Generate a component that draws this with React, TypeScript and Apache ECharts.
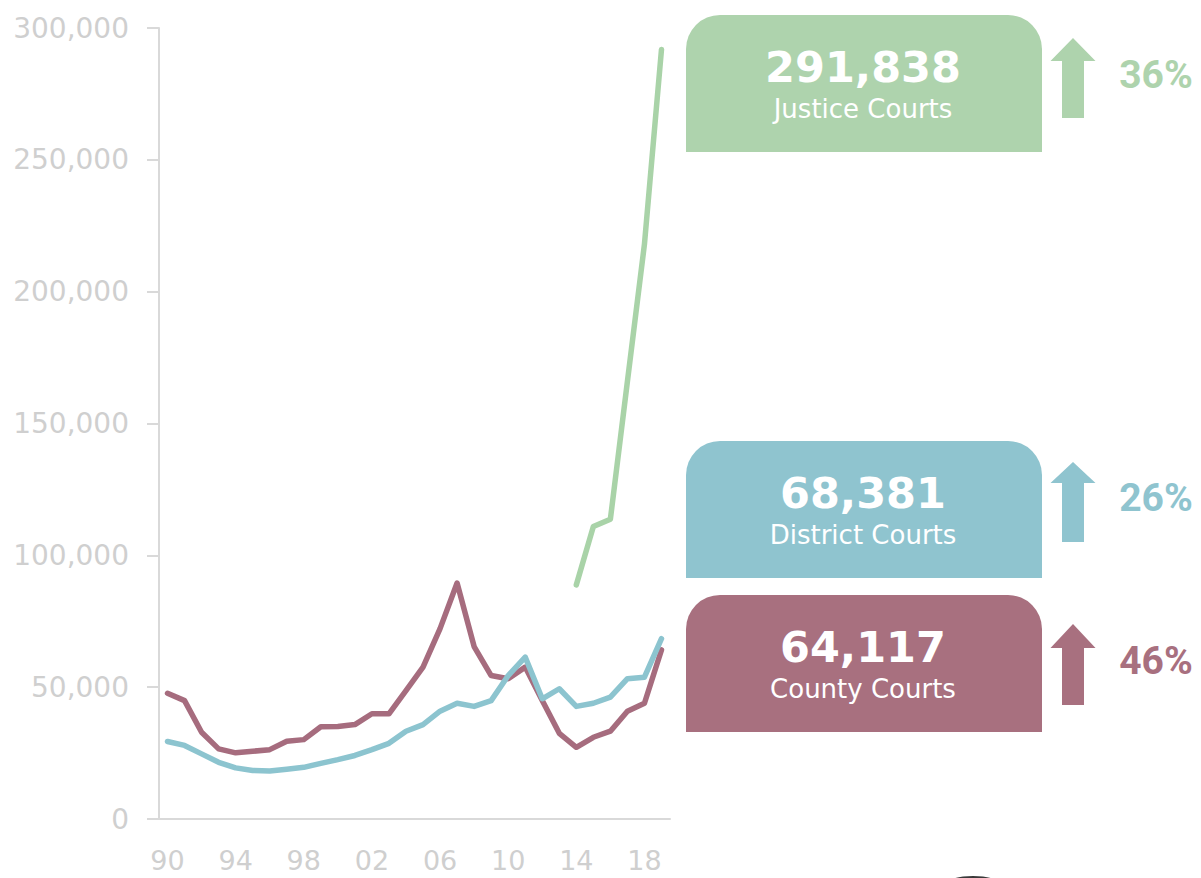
import React, { useEffect, useRef } from "react";
import * as echarts from "echarts";

const years: string[] = [
  "90", "91", "92", "93", "94", "95", "96", "97", "98", "99",
  "00", "01", "02", "03", "04", "05", "06", "07", "08", "09",
  "10", "11", "12", "13", "14", "15", "16", "17", "18", "19",
];

const countyCourts: number[] = [
  47700, 44900, 32900, 26600, 25100, 25700, 26300, 29500, 30100, 35000,
  35100, 35800, 39900, 39900, 48700, 57600, 72200, 89500, 65400, 54400,
  53200, 57600, 44900, 32500, 27200, 31000, 33300, 40900, 43900, 64117,
];

const districtCourts: number[] = [
  29400, 27900, 24700, 21500, 19400, 18400, 18200, 18900, 19600, 21100,
  22500, 24100, 26300, 28700, 33300, 35800, 40900, 43900, 42700, 44900,
  54400, 61400, 45600, 49400, 42700, 43900, 46200, 53200, 53800, 68381,
];

const justiceCourts: (number | null)[] = [
  null, null, null, null, null, null, null, null, null, null,
  null, null, null, null, null, null, null, null, null, null,
  null, null, null, null, 88800, 110900, 113700, 166000, 218000, 291838,
];

const yTicks: number[] = [0, 50000, 100000, 150000, 200000, 250000, 300000];

const cards = [
  { value: "291,838", name: "Justice Courts", pct: "36%", color: "#aed3ad", line: "#a9d3a8" },
  { value: "68,381", name: "District Courts", pct: "26%", color: "#8fc4cf", line: "#8cc4cf" },
  { value: "64,117", name: "County Courts", pct: "46%", color: "#a8707f", line: "#a66c7e" },
];

const cardTops = [15, 441, 595];
const arrowOffsets = [
  { tip: 23, base: 46, bottom: 103 },
  { tip: 21, base: 42, bottom: 101 },
  { tip: 29, base: 53, bottom: 110 },
];
const pctBaselines = [74, 71, 80];

export default function App() {
  const ref = useRef<HTMLDivElement>(null);

  useEffect(() => {
    if (!ref.current) return;
    const chart = echarts.init(ref.current, undefined, { renderer: "svg" });

    const graphics: any[] = [];
    cards.forEach((c, i) => {
      const top = cardTops[i];
      const a = arrowOffsets[i];
      graphics.push({
        type: "rect",
        shape: { x: 686, y: top, width: 356, height: 137, r: [34, 34, 0, 0] },
        style: { fill: c.color },
      });
      graphics.push({
        type: "text",
        x: 863,
        y: top + 52,
        style: {
          text: c.value,
          fill: "#ffffff",
          font: "bold 43px 'DejaVu Sans'",
          textAlign: "center",
          textVerticalAlign: "middle",
        },
      });
      graphics.push({
        type: "text",
        x: 863,
        y: top + 94,
        style: {
          text: c.name,
          fill: "#ffffff",
          font: "26px 'DejaVu Sans'",
          textAlign: "center",
          textVerticalAlign: "middle",
        },
      });
      const cx = 1073;
      graphics.push({
        type: "polygon",
        shape: {
          points: [
            [cx, top + a.tip],
            [cx + 22.5, top + a.base],
            [cx + 11, top + a.base],
            [cx + 11, top + a.bottom],
            [cx - 11, top + a.bottom],
            [cx - 11, top + a.base],
            [cx - 22.5, top + a.base],
          ],
        },
        style: { fill: c.color },
      });
      graphics.push({
        type: "text",
        x: 1156,
        y: pctBaselines[i] + top - 14,
        style: {
          text: c.pct,
          fill: c.color,
          font: "bold 39px Roboto",
          textAlign: "center",
          textVerticalAlign: "middle",
        },
      });
    });
    graphics.push({
      type: "ellipse",
      shape: { cx: 973, cy: 881, rx: 22, ry: 5 },
      style: { fill: "#3a3a3a" },
    });

    const seriesList = [
      { name: "County Courts", data: countyCourts, color: cards[2].line },
      { name: "District Courts", data: districtCourts, color: cards[1].line },
      { name: "Justice Courts", data: justiceCourts, color: cards[0].line },
    ];

    chart.setOption({
      animation: false,
      backgroundColor: "#ffffff",
      grid: { left: 159, top: 28, width: 511, height: 791, containLabel: false },
      xAxis: {
        type: "category",
        data: years,
        boundaryGap: true,
        axisLine: { show: true, lineStyle: { color: "#d9d9d9", width: 2 } },
        axisTick: { show: false },
        axisLabel: {
          interval: 3,
          color: "#cfcfcf",
          fontFamily: "DejaVu Sans",
          fontSize: 27,
          margin: 28,
        },
        splitLine: { show: false },
      },
      yAxis: {
        type: "value",
        min: yTicks[0],
        max: yTicks[yTicks.length - 1],
        interval: yTicks[1] - yTicks[0],
        axisLine: { show: true, lineStyle: { color: "#d9d9d9", width: 2 } },
        axisTick: { show: true, length: 12, lineStyle: { color: "#d9d9d9", width: 2 } },
        axisLabel: {
          color: "#cfcfcf",
          fontFamily: "DejaVu Sans",
          fontSize: 28,
          margin: 30,
          formatter: (v: number) => v.toLocaleString("en-US"),
        },
        splitLine: { show: false },
      },
      series: seriesList.map((s) => ({
        name: s.name,
        type: "line",
        data: s.data,
        symbol: "none",
        connectNulls: false,
        lineStyle: { color: s.color, width: 5.5, cap: "round", join: "round" },
        itemStyle: { color: s.color },
      })),
      graphic: graphics,
    });

    return () => chart.dispose();
  }, []);

  return (
    <div
      ref={ref}
      style={{ position: "fixed", left: 0, top: 0, width: 1201, height: 878, background: "#fff" }}
    />
  );
}
